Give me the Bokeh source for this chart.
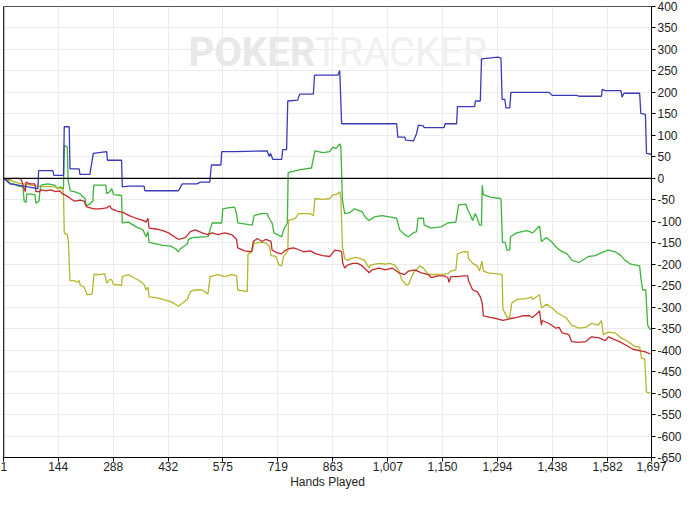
from bokeh.plotting import figure
from bokeh.models import Range1d, FixedTicker, NumeralTickFormatter, Span, Label
from bokeh.embed import file_html
from bokeh.resources import INLINE

# ---------------- data (hands played, net won) ----------------
x_ticks = [1, 144, 288, 432, 575, 719, 863, 1007, 1150, 1294, 1438, 1582, 1697]
y_ticks = list(range(-650, 401, 50))

blue_h = [1, 19, 40, 65, 91, 93, 130, 133, 158, 160, 173, 175, 199, 201, 227, 236, 271, 273, 310, 312, 328, 369, 371, 459, 469, 508, 516, 541, 545, 570, 572, 606, 691, 696, 700, 706, 729, 732, 742, 745, 771, 776, 812, 815, 876, 881, 886, 1030, 1033, 1051, 1054, 1074, 1082, 1087, 1100, 1102, 1154, 1157, 1187, 1189, 1234, 1236, 1249, 1252, 1295, 1303, 1306, 1313, 1316, 1326, 1329, 1429, 1437, 1501, 1509, 1566, 1568, 1576, 1617, 1620, 1625, 1666, 1669, 1681, 1684, 1697]
blue_v = [0, -13, -16, -20, -24, 18, 18, 7, 7, 120, 120, 22, 22, 9, 9, 58, 62, 42, 42, -20, -18, -18, -29, -29, -13, -13, -9, -9, 31, 31, 62, 62, 64, 51, 58, 44, 44, 67, 67, 180, 182, 196, 196, 240, 240, 251, 127, 127, 96, 96, 89, 87, 104, 124, 122, 118, 118, 127, 127, 167, 167, 180, 180, 278, 282, 280, 184, 184, 164, 164, 200, 200, 193, 193, 191, 191, 207, 204, 204, 189, 198, 198, 151, 149, 58, 56]

green_h = [1, 9, 19, 27, 40, 52, 55, 60, 62, 83, 86, 94, 96, 99, 117, 135, 143, 150, 158, 160, 168, 170, 176, 186, 202, 207, 215, 217, 227, 235, 237, 253, 269, 271, 279, 284, 289, 310, 312, 328, 348, 366, 374, 379, 382, 392, 418, 439, 451, 459, 464, 482, 485, 495, 536, 544, 547, 572, 575, 588, 606, 611, 614, 652, 657, 675, 691, 696, 704, 709, 729, 734, 744, 746, 778, 807, 816, 837, 855, 863, 871, 881, 884, 888, 894, 907, 920, 940, 948, 958, 974, 992, 1018, 1030, 1038, 1051, 1061, 1074, 1082, 1086, 1100, 1102, 1121, 1146, 1164, 1185, 1192, 1211, 1216, 1221, 1229, 1236, 1241, 1247, 1252, 1254, 1257, 1275, 1301, 1303, 1307, 1314, 1319, 1326, 1328, 1344, 1370, 1378, 1386, 1404, 1409, 1422, 1437, 1447, 1460, 1476, 1489, 1507, 1532, 1550, 1566, 1584, 1602, 1617, 1628, 1643, 1666, 1669, 1674, 1682, 1687, 1694]
green_v = [0, -2, -13, -13, -18, -20, -53, -56, -36, -38, -58, -53, -31, -16, -13, -16, -24, -20, -24, 76, 73, -4, -29, -31, -36, -42, -47, -64, -60, -53, -16, -16, -16, -36, -31, -24, -38, -40, -104, -102, -113, -120, -136, -124, -149, -151, -156, -158, -164, -171, -164, -153, -142, -138, -136, -113, -104, -104, -71, -69, -67, -82, -104, -109, -87, -82, -82, -93, -104, -127, -136, -120, -104, 13, 20, 24, 64, 60, 62, 73, 69, 80, 73, -49, -82, -80, -71, -78, -91, -98, -89, -87, -91, -93, -120, -131, -136, -127, -124, -93, -93, -109, -116, -113, -104, -102, -62, -60, -73, -82, -98, -82, -93, -109, -109, -16, -38, -44, -47, -49, -149, -149, -167, -167, -136, -127, -122, -124, -127, -111, -147, -138, -149, -160, -169, -176, -191, -196, -182, -180, -173, -167, -171, -180, -191, -200, -204, -231, -260, -260, -342, -353]

red_h = [1, 14, 27, 40, 47, 55, 58, 60, 70, 83, 86, 96, 99, 112, 125, 137, 148, 155, 161, 168, 176, 186, 202, 212, 217, 220, 238, 253, 271, 279, 284, 297, 315, 330, 348, 366, 374, 379, 382, 400, 418, 433, 451, 459, 469, 477, 490, 503, 521, 536, 547, 562, 580, 598, 611, 614, 632, 650, 655, 665, 678, 688, 701, 704, 716, 729, 737, 747, 760, 768, 786, 804, 819, 837, 855, 868, 881, 886, 889, 894, 902, 915, 928, 940, 958, 966, 984, 1000, 1018, 1036, 1051, 1061, 1077, 1095, 1113, 1120, 1138, 1154, 1164, 1167, 1172, 1190, 1205, 1216, 1218, 1229, 1241, 1249, 1254, 1257, 1275, 1293, 1308, 1326, 1344, 1360, 1378, 1385, 1396, 1404, 1409, 1411, 1429, 1447, 1455, 1463, 1481, 1488, 1507, 1525, 1540, 1558, 1576, 1584, 1602, 1617, 1635, 1648, 1669, 1681, 1694]
red_v = [0, -2, 0, 0, -2, -24, -31, -9, -13, -13, -31, -31, -27, -29, -27, -31, -29, -36, -38, -42, -47, -53, -51, -53, -64, -67, -71, -71, -69, -64, -71, -76, -80, -87, -93, -98, -102, -93, -116, -118, -122, -127, -138, -142, -140, -138, -124, -120, -127, -131, -127, -131, -127, -131, -142, -162, -169, -171, -147, -140, -147, -142, -147, -167, -173, -176, -169, -164, -162, -164, -171, -169, -176, -180, -182, -167, -169, -171, -198, -209, -202, -198, -198, -204, -220, -213, -209, -213, -209, -220, -224, -216, -213, -220, -224, -231, -227, -227, -231, -242, -229, -229, -227, -227, -238, -260, -264, -276, -291, -320, -324, -327, -331, -327, -324, -320, -320, -324, -316, -309, -342, -331, -338, -349, -347, -360, -364, -380, -382, -380, -369, -371, -378, -369, -376, -382, -391, -398, -402, -404, -409]

yellow_h = [1, 40, 91, 137, 143, 148, 155, 158, 160, 168, 171, 175, 186, 194, 199, 202, 212, 220, 225, 233, 235, 238, 251, 266, 271, 279, 284, 289, 310, 312, 328, 341, 356, 369, 374, 379, 382, 400, 418, 439, 456, 459, 469, 482, 490, 503, 521, 536, 542, 562, 580, 598, 611, 614, 639, 641, 652, 657, 675, 688, 698, 701, 714, 722, 729, 734, 745, 747, 765, 773, 804, 812, 816, 837, 855, 863, 871, 876, 881, 884, 888, 894, 902, 909, 922, 935, 946, 958, 961, 984, 1000, 1012, 1025, 1036, 1043, 1056, 1061, 1074, 1082, 1090, 1100, 1113, 1128, 1146, 1164, 1172, 1185, 1189, 1205, 1216, 1218, 1229, 1241, 1247, 1253, 1257, 1270, 1288, 1306, 1308, 1319, 1326, 1331, 1344, 1370, 1383, 1385, 1404, 1409, 1422, 1437, 1450, 1473, 1488, 1507, 1525, 1540, 1558, 1566, 1571, 1584, 1602, 1617, 1635, 1653, 1666, 1671, 1679, 1684, 1694]
yellow_v = [0, -11, -18, -20, -24, -22, -24, -31, -127, -131, -149, -238, -238, -242, -238, -249, -253, -271, -271, -269, -253, -224, -224, -222, -244, -236, -236, -247, -249, -229, -224, -231, -238, -247, -260, -253, -276, -278, -282, -287, -296, -298, -291, -282, -264, -260, -260, -269, -229, -224, -229, -224, -227, -260, -264, -176, -169, -151, -149, -151, -160, -180, -182, -202, -204, -182, -169, -98, -93, -82, -82, -87, -47, -49, -47, -38, -38, -36, -31, -47, -158, -187, -191, -187, -184, -187, -191, -209, -202, -198, -200, -198, -202, -216, -236, -249, -247, -220, -213, -204, -209, -224, -224, -224, -222, -216, -213, -176, -171, -171, -187, -198, -204, -216, -193, -216, -220, -222, -224, -304, -324, -324, -291, -282, -280, -276, -282, -271, -302, -293, -302, -313, -324, -342, -349, -347, -338, -342, -331, -364, -358, -360, -371, -380, -391, -393, -420, -420, -498, -500]

series = [
    (green_h, green_v, "#3cb43c"),
    (yellow_h, yellow_v, "#b5b52e"),
    (red_h, red_v, "#c22a2e"),
    (blue_h, blue_v, "#3a3ab8"),
]

# ---------------- figure ----------------
p = figure(width=684, height=491, output_backend="svg", toolbar_location=None,
           x_range=Range1d(1, 1697), y_range=Range1d(-650, 400),
           y_axis_location="right", min_border_left=3, min_border_top=6,
           min_border_bottom=0, min_border_right=0)
p.background_fill_color = "white"
p.border_fill_color = "white"
p.outline_line_color = "#555555"
p.outline_line_width = 1

GRID = "#ebebeb"
p.xgrid.ticker = FixedTicker(ticks=x_ticks)
p.ygrid.ticker = FixedTicker(ticks=y_ticks)
for g in (p.xgrid, p.ygrid):
    g.grid_line_color = GRID
    g.grid_line_width = 1

for ax in (p.xaxis, p.yaxis):
    ax.axis_line_color = "black"
    ax.major_tick_line_color = "black"
    ax.major_tick_out = 4
    ax.major_tick_in = 0
    ax.minor_tick_line_color = None
    ax.major_label_text_font = "Liberation Sans"
    ax.major_label_text_font_size = "12px"
    ax.major_label_text_color = "#222222"
    ax.major_label_standoff = 0

p.xaxis.ticker = FixedTicker(ticks=x_ticks)
p.xaxis.formatter = NumeralTickFormatter(format="0,0")
p.yaxis.ticker = FixedTicker(ticks=y_ticks)
p.yaxis.major_label_overrides = {v: str(v) for v in y_ticks}
p.yaxis.major_label_standoff = 2

p.xaxis.axis_label = "Hands Played"
p.xaxis.axis_label_text_font = "Liberation Sans"
p.xaxis.axis_label_text_font_size = "12px"
p.xaxis.axis_label_text_font_style = "normal"
p.xaxis.axis_label_text_color = "#222222"
p.xaxis.axis_label_standoff = 1

# watermark
p.add_layout(Label(x=485, y=292, text="POKER", text_font="Roboto", text_font_style="bold",
                   text_font_size="40px", text_color="#e8e8e8", text_baseline="middle",
                   text_align="left", level="underlay"))
p.add_layout(Label(x=815, y=292, text="TRACKER", text_font="Roboto",
                   text_font_size="40px", text_color="#f0f0f0", text_baseline="middle",
                   text_align="left", level="underlay"))

p.add_layout(Span(location=0, dimension="width", line_color="black", line_width=1.2))
p.add_layout(Span(location=1, dimension="height", line_color="black", line_width=1.5))

for hx, vy, col in series:
    p.line(hx, vy, line_color=col, line_width=1.3)

open("out.html", "w").write(file_html(p, INLINE))
